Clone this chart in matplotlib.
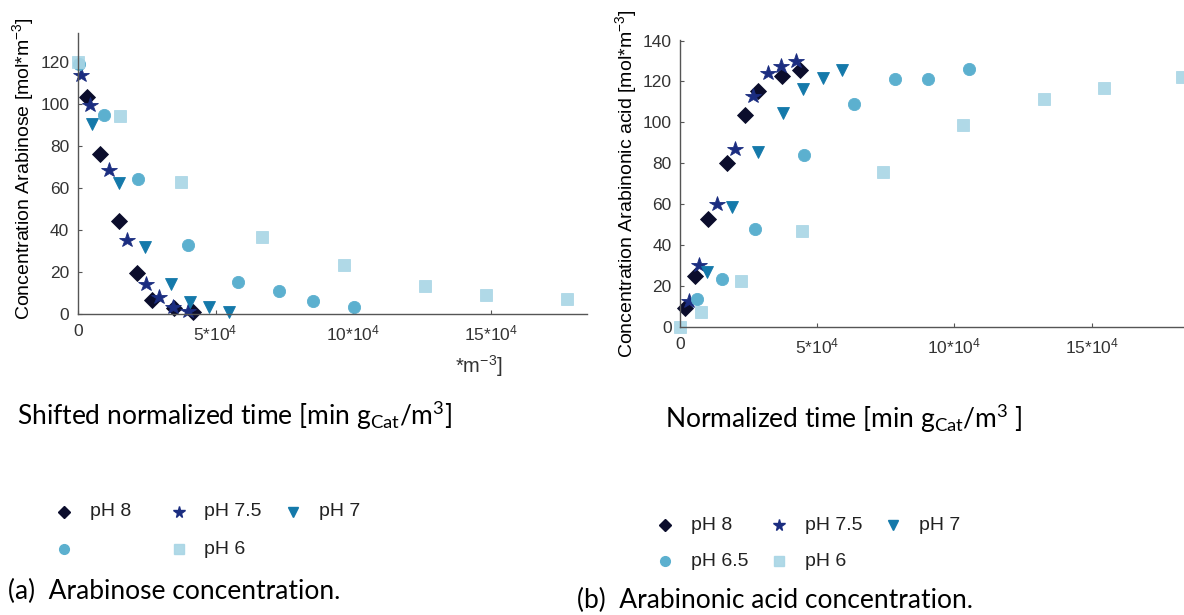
import matplotlib
matplotlib.use("Agg")
import matplotlib.pyplot as plt
from matplotlib.lines import Line2D

# Fonts: Arial-like for the axes, Calibri-like for the caption texts
plt.rcParams['font.family'] = ['Liberation Sans', 'DejaVu Sans']
plt.rcParams['mathtext.fontset'] = 'custom'
plt.rcParams['mathtext.rm'] = 'Liberation Sans'
plt.rcParams['mathtext.it'] = 'Liberation Sans:italic'
CAP_FONT = ['Lato', 'DejaVu Sans']

# ---- data (x in units of 1e4 min gCat/m3, y in mol/m3) ----
series_names = ['pH 8', 'pH 7.5', 'pH 7', 'pH 6.5', 'pH 6']

# (a) Arabinose concentration
ara_x_ph8 = [0.32, 0.81, 1.51, 2.15, 2.68, 3.51, 4.18]
ara_y_ph8 = [103.5, 76.3, 44.2, 19.6, 6.7, 2.9, 1.0]
ara_x_ph75 = [0.11, 0.45, 1.13, 1.79, 2.46, 2.96, 3.47, 4.00]
ara_y_ph75 = [114.1, 99.8, 68.8, 35.1, 14.3, 7.9, 3.2, 1.3]
ara_x_ph7 = [0.53, 1.49, 2.43, 3.38, 4.07, 4.78, 5.50]
ara_y_ph7 = [90.5, 62.5, 32.0, 14.5, 5.9, 3.3, 0.8]
ara_x_ph65 = [0.06, 0.96, 2.18, 3.99, 5.80, 7.32, 8.52, 10.03]
ara_y_ph65 = [119.0, 95.1, 64.4, 32.9, 15.1, 11.1, 6.0, 3.5]
ara_x_ph6 = [0.0, 1.55, 3.74, 6.69, 9.65, 12.59, 14.83, 17.75]
ara_y_ph6 = [120.0, 94.4, 63.1, 36.7, 23.5, 13.2, 9.2, 7.0]

# (b) Arabinonic acid concentration
aci_x_ph8 = [0.20, 0.53, 1.03, 1.71, 2.36, 2.86, 3.73, 4.38]
aci_y_ph8 = [9.1, 24.7, 53.0, 80.3, 103.6, 115.3, 122.5, 125.8]
aci_x_ph75 = [0.34, 0.68, 1.34, 2.02, 2.66, 3.19, 3.68, 4.24]
aci_y_ph75 = [12.9, 30.1, 60.3, 86.8, 112.8, 124.2, 127.4, 129.8]
aci_x_ph7 = [0.98, 1.90, 2.85, 3.77, 4.49, 5.20, 5.91]
aci_y_ph7 = [26.8, 58.7, 85.4, 104.8, 116.1, 121.7, 125.8]
aci_x_ph65 = [0.62, 1.52, 2.73, 4.53, 6.34, 7.85, 9.05, 10.55]
aci_y_ph65 = [13.7, 23.4, 47.7, 84.2, 109.1, 121.2, 121.4, 126.1]
aci_x_ph6 = [0.0, 0.75, 2.23, 4.44, 7.38, 10.32, 13.25, 15.46, 18.28]
aci_y_ph6 = [0.0, 7.3, 22.3, 46.7, 75.8, 98.8, 111.5, 116.6, 122.2]

x_ticks = [0, 5e4, 10e4, 15e4]
x_tick_labels = ['0', '5*10$^4$', '10*10$^4$', '15*10$^4$']

# ---- styles ----
styles = {
    'pH 8':   dict(marker='D', color='#0b0d2c', ms=7.8),
    'pH 7.5': dict(marker='*', color='#1b2d80', ms=11.5),
    'pH 7':   dict(marker='v', color='#1479aa', ms=9),
    'pH 6.5': dict(marker='o', color='#5cb0cf', ms=8.8),
    'pH 6':   dict(marker='s', color='#a8d5e5', ms=8.8),
}

W, H = 1184, 615
fig = plt.figure(figsize=(W / 100, H / 100), dpi=100)


def axes_px(left, top, right, bottom):
    return fig.add_axes([left / W, 1 - bottom / H, (right - left) / W, (bottom - top) / H])


def style_axes(ax, xmax, ymax, yticks):
    for s in ['top', 'right']:
        ax.spines[s].set_visible(False)
    for s in ['left', 'bottom']:
        ax.spines[s].set_color('#555555')
        ax.spines[s].set_linewidth(1.0)
    ax.set_xticks(x_ticks)
    ax.set_xticklabels(x_tick_labels)
    ax.set_yticks(yticks)
    ax.set_xlim(0, xmax)
    ax.set_ylim(0, ymax)
    ax.tick_params(direction='in', length=3, width=0.8, color='#555555',
                   labelcolor='#333333', labelsize=12.5)
    ax.tick_params(axis='x', pad=7)
    ax.tick_params(axis='y', pad=6)
    ax.set_facecolor('none')


def draw(ax, xs, ys):
    for name, x, y in zip(series_names, xs, ys):
        st = styles[name]
        alpha = 0.9 if name == 'pH 6' else 1.0
        ax.plot([v * 1e4 for v in x], y, linestyle='none', marker=st['marker'],
                color=st['color'], markersize=st['ms'], markeredgewidth=0.6,
                alpha=alpha, clip_on=False)


# (a) left panel
axL = axes_px(77.7, 33, 586.5, 314)
draw(axL,
     [ara_x_ph8, ara_x_ph75, ara_x_ph7, ara_x_ph65, ara_x_ph6],
     [ara_y_ph8, ara_y_ph75, ara_y_ph7, ara_y_ph65, ara_y_ph6])
style_axes(axL, 18.46e4, 134, [0, 20, 40, 60, 80, 100, 120])
axL.set_ylabel('Concentration Arabinose [mol*m$^{-3}$]', fontsize=14, va='center')
axL.yaxis.set_label_coords(-0.1065, 0.518)

# (b) right panel (cut off at the right edge like the original)
axR = axes_px(680, 39.5, 1228.8, 327)
draw(axR,
     [aci_x_ph8, aci_x_ph75, aci_x_ph7, aci_x_ph65, aci_x_ph6],
     [aci_y_ph8, aci_y_ph75, aci_y_ph7, aci_y_ph65, aci_y_ph6])
style_axes(axR, 20e4, 140.5, [0, 20, 40, 60, 80, 100, 120, 140])
axR.set_ylabel('Concentration Arabinonic acid [mol*m$^{-3}$]', fontsize=14, va='center')
axR.yaxis.set_label_coords(-0.0984, 0.499)

# leftover fragment of the original axis label
fig.text(479 / W, 1 - 366 / H, '*m$^{-3}$]', fontsize=14.5, color='#333333',
         ha='center', va='center')

# x-axis titles and captions (Calibri-like)
fig.text(17 / W, 1 - 416 / H,
         r'Shifted normalized time [min g$_\mathregular{Cat}$/m$^\mathregular{3}$]',
         family=CAP_FONT, fontsize=19, ha='left', va='center')
fig.text(665 / W, 1 - 419 / H,
         r'Normalized time [min g$_\mathregular{Cat}$/m$^\mathregular{3}$ ]',
         family=CAP_FONT, fontsize=19, ha='left', va='center')
fig.text(8 / W, 1 - 591 / H, '(a)  Arabinose concentration.',
         family=CAP_FONT, fontsize=19, ha='left', va='center')
fig.text(577 / W, 1 - 600 / H, '(b)  Arabinonic acid concentration.',
         family=CAP_FONT, fontsize=19, ha='left', va='center')

# legends, laid out on a fixed grid like the original
legend_ms = {'pH 8': 5.8, 'pH 7.5': 8.5, 'pH 7': 7, 'pH 6.5': 7, 'pH 6': 7}


def legend_grid(x0, y_rows, col_step, labels):
    slots = [(0, 0), (1, 0), (2, 0), (0, 1), (1, 1)]
    for name, lab, (c, r) in zip(series_names, labels, slots):
        st = styles[name]
        mx = x0 + c * col_step
        my = y_rows[r]
        fig.add_artist(Line2D([mx / W], [1 - my / H], transform=fig.transFigure,
                              linestyle='none', marker=st['marker'], color=st['color'],
                              markersize=legend_ms[name],
                              alpha=0.9 if name == 'pH 6' else 1.0))
        if lab:
            fig.text((mx + 26) / W, 1 - my / H, lab, fontsize=14, color='#222222',
                     ha='left', va='center')


legend_grid(64, [512, 549], 114.5, ['pH 8', 'pH 7.5', 'pH 7', '', 'pH 6'])
legend_grid(665, [525, 561], 114, ['pH 8', 'pH 7.5', 'pH 7', 'pH 6.5', 'pH 6'])

fig.savefig('out.png', dpi=100)
